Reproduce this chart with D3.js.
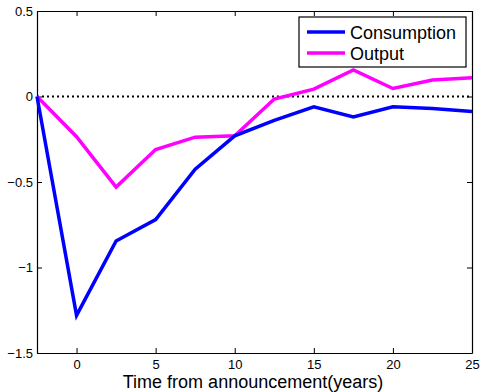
<!DOCTYPE html>
<html>
<head>
<meta charset="utf-8">
<script src="https://cdn.jsdelivr.net/npm/d3@7"></script>
<style>
  body { margin: 0; background: #fff; }
  text { font-family: "Liberation Sans", Arial, sans-serif; }
</style>
</head>
<body>
<div id="main"></div>
<script>
// data
const years = [-2.5, 0, 2.5, 5, 7.5, 10, 12.5, 15, 17.5, 20, 22.5, 25];
const consumption = [0, -1.28, -0.845, -0.72, -0.425, -0.23, -0.14, -0.06, -0.12, -0.06, -0.07, -0.088];
const output = [0, -0.235, -0.53, -0.31, -0.238, -0.23, -0.015, 0.043, 0.155, 0.047, 0.096, 0.11];
const xTicks = [0, 5, 10, 15, 20, 25];
const yTicks = [0.5, 0, -0.5, -1, -1.5];

const w = 480;
const h = 392;
const plotLeft = 37, plotRight = 472, plotTop = 11, plotBottom = 353;

const svg = d3.select('div#main')
  .append('svg')
  .attr('width', w)
  .attr('height', h);

const x = d3.scaleLinear().domain([-2.5, 25]).range([plotLeft, plotRight]);
const y = d3.scaleLinear().domain([-1.5, 0.5]).range([plotBottom, plotTop]);

const fmt = d => (d < 0 ? '\u2212' : '') + Math.abs(d);

// axes with inward ticks, box style
const tickLen = 5;
svg.append('g')
  .attr('transform', `translate(0,${plotBottom})`)
  .call(d3.axisBottom(x).tickValues(xTicks).tickSizeInner(-tickLen).tickSizeOuter(0).tickPadding(7).tickFormat(fmt));
svg.append('g')
  .attr('transform', `translate(0,${plotTop})`)
  .call(d3.axisTop(x).tickValues(xTicks).tickSizeInner(-tickLen).tickSizeOuter(0).tickFormat(''));
svg.append('g')
  .attr('transform', `translate(${plotLeft},0)`)
  .call(d3.axisLeft(y).tickValues(yTicks).tickSizeInner(-tickLen).tickSizeOuter(0).tickPadding(4).tickFormat(fmt));
svg.append('g')
  .attr('transform', `translate(${plotRight},0)`)
  .call(d3.axisRight(y).tickValues(yTicks).tickSizeInner(-tickLen).tickSizeOuter(0).tickFormat(''));

svg.selectAll('.domain').attr('stroke', '#000').attr('stroke-width', 1.2);
svg.selectAll('.tick line').attr('stroke', '#000');
svg.selectAll('.tick text')
  .attr('font-size', 13)
  .attr('fill', '#000')
  .style('font-family', '"Liberation Sans", Arial, sans-serif');

// zero line
svg.append('line')
  .attr('x1', x(-2.5)).attr('x2', x(25))
  .attr('y1', y(0)).attr('y2', y(0))
  .attr('stroke', '#000')
  .attr('stroke-width', 2)
  .attr('stroke-dasharray', '2,3');

const line = d3.line().x(d => x(d[0])).y(d => y(d[1]));

svg.append('path')
  .datum(years.map((t, i) => [t, output[i]]))
  .attr('d', line)
  .attr('fill', 'none')
  .attr('stroke', '#ff00ff')
  .attr('stroke-width', 3.5);

svg.append('path')
  .datum(years.map((t, i) => [t, consumption[i]]))
  .attr('d', line)
  .attr('fill', 'none')
  .attr('stroke', '#0000ff')
  .attr('stroke-width', 3.5);

// legend
const legend = svg.append('g');
legend.append('rect')
  .attr('x', 299).attr('y', 17)
  .attr('width', 167).attr('height', 50)
  .attr('fill', '#fff')
  .attr('stroke', '#000')
  .attr('stroke-width', 1.2);

const entries = [['Consumption', '#0000ff'], ['Output', '#ff00ff']];
entries.forEach((e, i) => {
  const cy = 32 + i * 21;
  legend.append('line')
    .attr('x1', 307).attr('x2', 345)
    .attr('y1', cy).attr('y2', cy)
    .attr('stroke', e[1])
    .attr('stroke-width', 3.5);
  legend.append('text')
    .attr('x', 350).attr('y', cy + 6.5)
    .attr('font-size', 18)
    .text(e[0]);
});

// axis label
svg.append('text')
  .attr('x', (118 + 388) / 2)
  .attr('y', 388)
  .attr('text-anchor', 'middle')
  .attr('font-size', 18)
  .text('Time from announcement(years)');
</script>
</body>
</html>
